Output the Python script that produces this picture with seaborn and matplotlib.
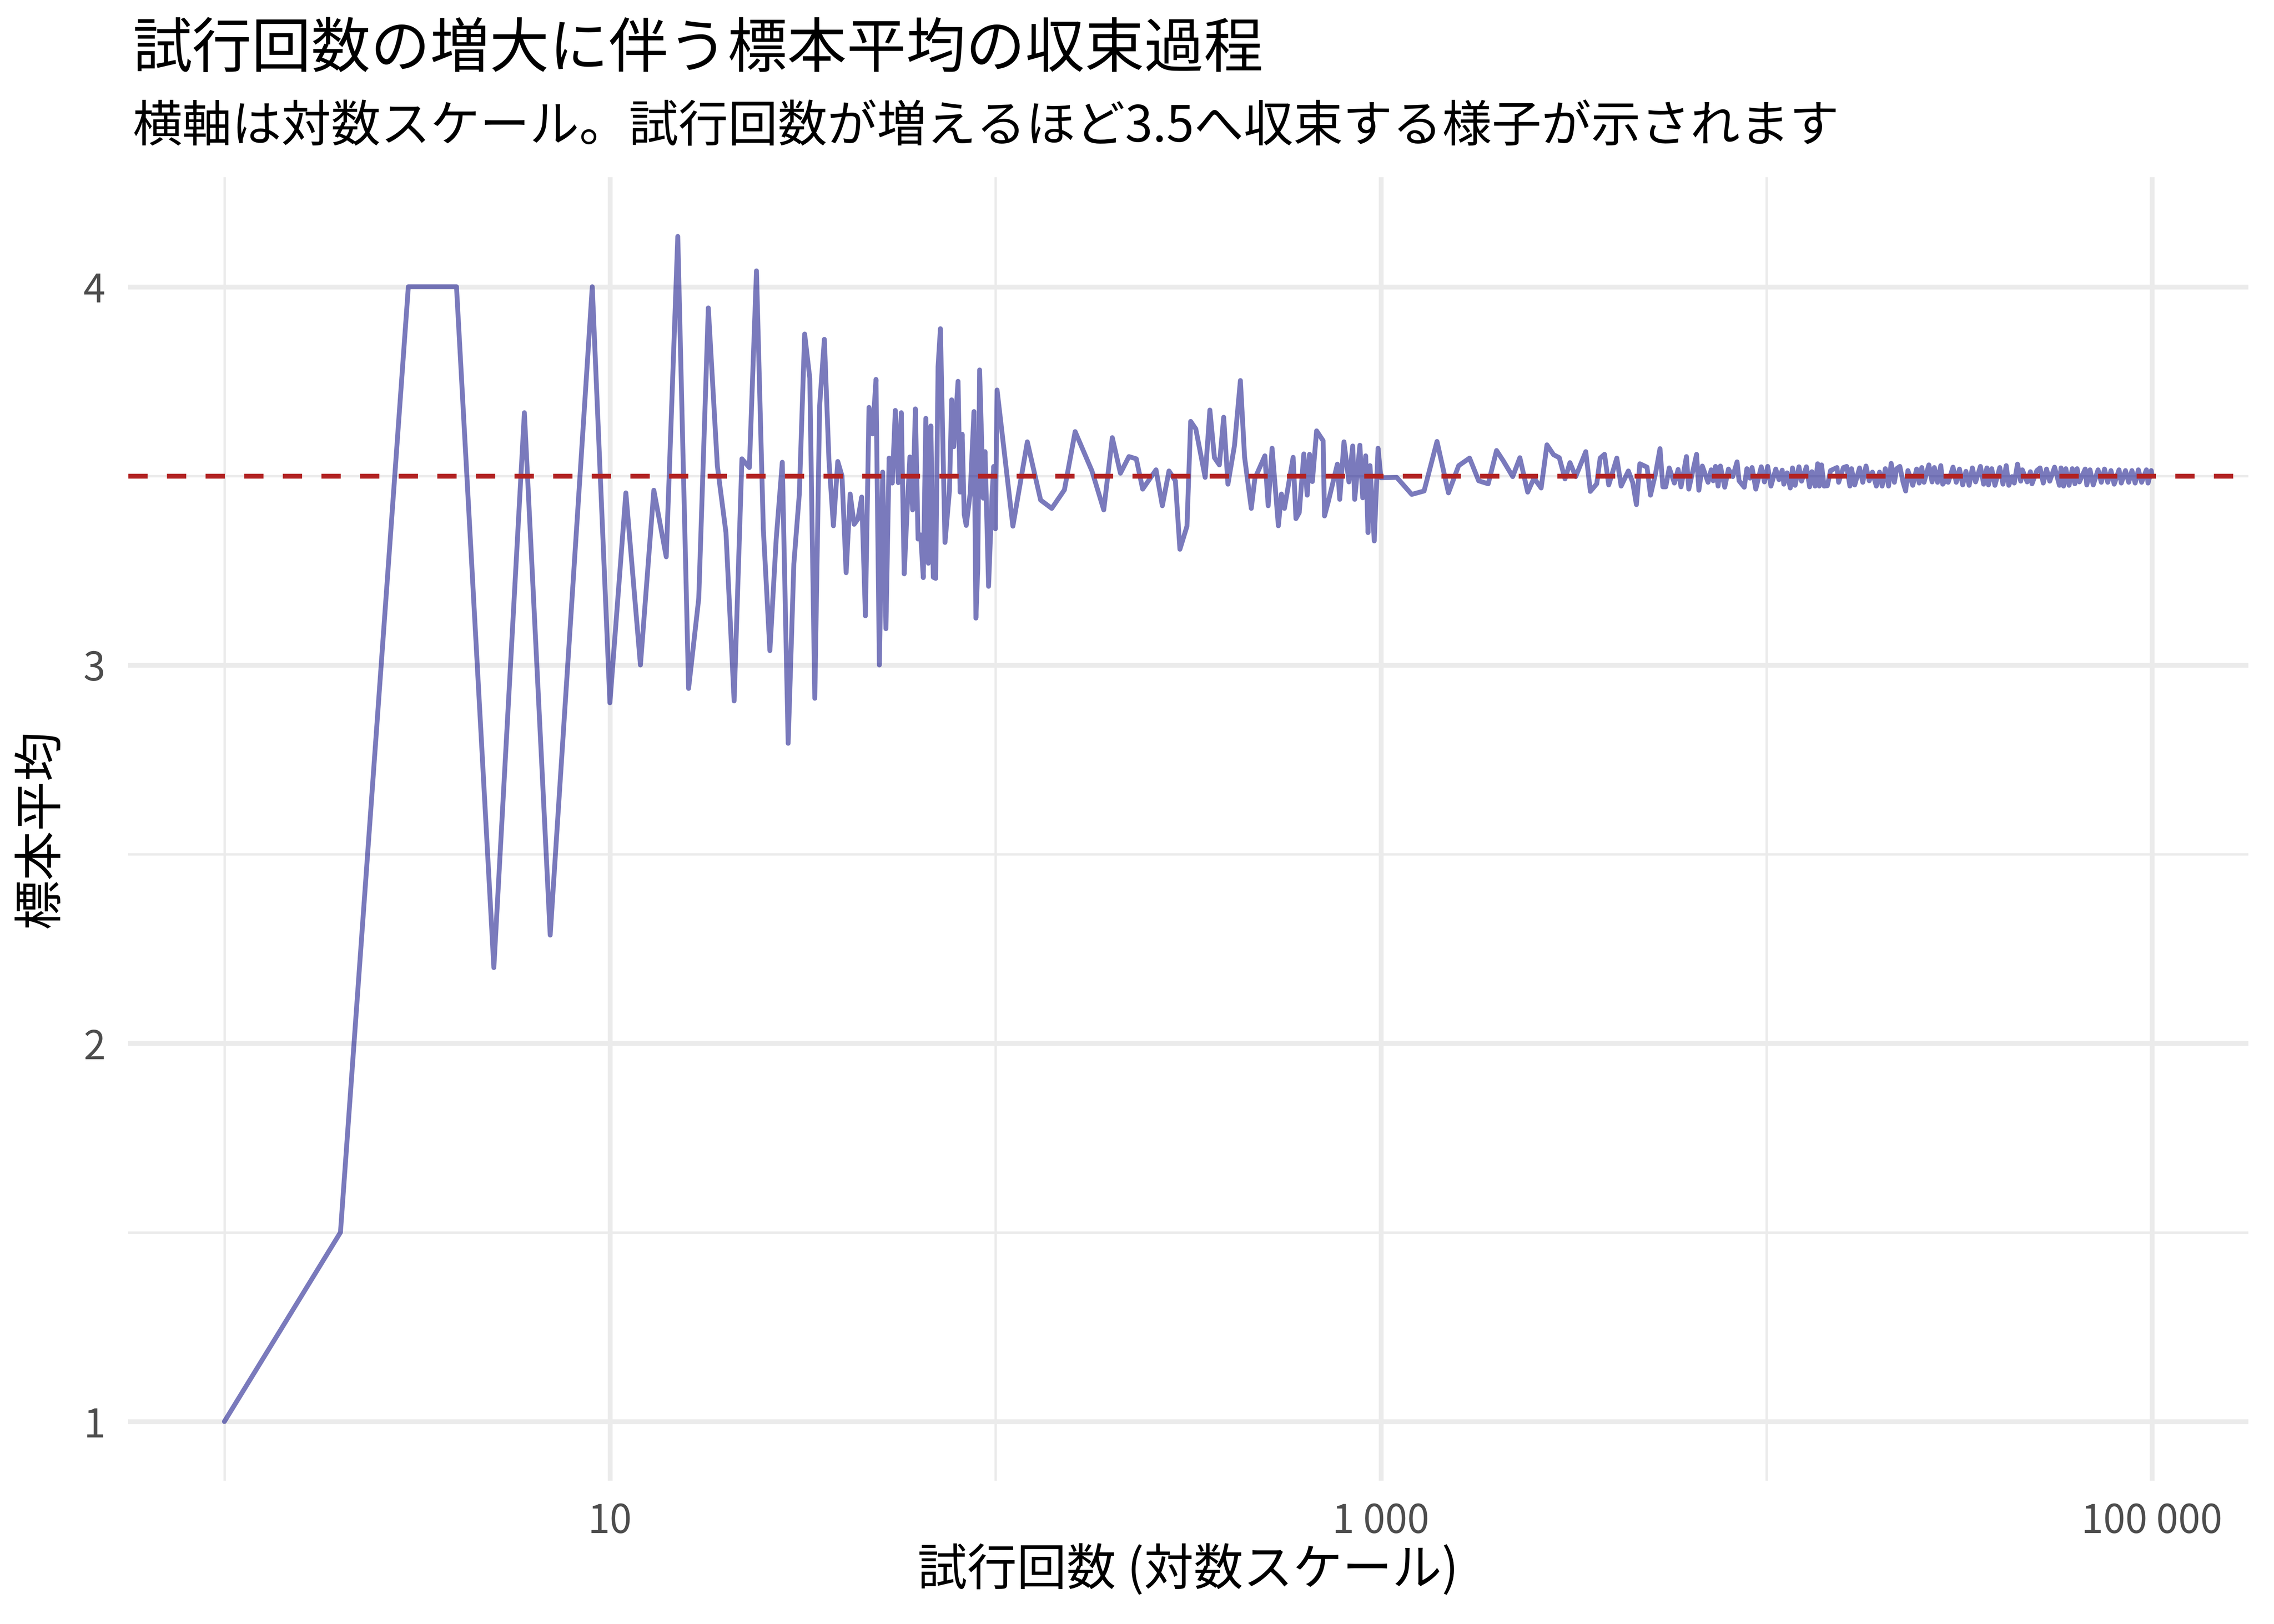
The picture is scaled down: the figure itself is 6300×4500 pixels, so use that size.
import matplotlib
matplotlib.use('Agg')
import matplotlib.pyplot as plt
from matplotlib.ticker import FixedLocator, FixedFormatter, NullFormatter
import numpy as np
import pandas as pd
import seaborn as sns

# sample mean of die rolls at each number of trials
# n = 1 .. 100
trials_a = [1, 2, 3, 4, 5, 6, 7, 9, 10, 11,
            12, 13, 14, 15, 16, 17, 18, 19, 20, 21,
            22, 23, 24, 25, 26, 27, 28, 29, 30, 31,
            32, 33, 34, 35, 36, 37, 38, 39, 40, 41,
            42, 43, 44, 45, 46, 47, 48, 49, 50, 51,
            52, 53, 54, 55, 56, 57, 58, 59, 60, 61,
            62, 63, 64, 65, 66, 67, 68, 69, 70, 71,
            72, 74, 76, 77, 78, 80, 81, 82, 83, 84,
            86, 88, 89, 90, 91, 93, 94, 96, 98, 99,
            100]
means_a = [1.0, 1.5, 4.0, 4.0, 2.2, 3.667, 2.286, 4.0, 2.9, 3.455,
           3.0, 3.462, 3.286, 4.133, 2.938, 3.176, 3.944, 3.526, 3.35, 2.905,
           3.545, 3.522, 4.042, 3.36, 3.038, 3.333, 3.536, 2.793, 3.267, 3.452,
           3.875, 3.758, 2.912, 3.686, 3.861, 3.541, 3.368, 3.538, 3.5, 3.244,
           3.452, 3.372, 3.386, 3.444, 3.13, 3.681, 3.611, 3.755, 3.0, 3.51,
           3.096, 3.547, 3.481, 3.673, 3.482, 3.667, 3.241, 3.407, 3.55, 3.41,
           3.677, 3.333, 3.344, 3.231, 3.652, 3.269, 3.632, 3.232, 3.229, 3.789,
           3.889, 3.324, 3.461, 3.701, 3.577, 3.75, 3.457, 3.61, 3.398, 3.369,
           3.453, 3.67, 3.124, 3.256, 3.78, 3.441, 3.564, 3.208, 3.45, 3.525,
           3.36]

# n = 100 .. 1000
trials_b = [101, 111, 121, 131, 140, 151, 161, 178, 191, 201,
            211, 222, 232, 241, 261, 271, 282, 293, 301, 314,
            321, 331, 350, 360, 370, 381, 391, 401, 417, 432,
            443, 461, 471, 500, 510, 522, 542, 552, 562, 592,
            602, 614, 631, 644, 653, 664, 681, 708, 714, 730,
            771, 782, 802, 826, 845, 855, 882, 897, 913, 926,
            937, 961, 983]
means_b = [3.727, 3.367, 3.590, 3.436, 3.414, 3.463, 3.617, 3.513, 3.410, 3.601,
           3.507, 3.551, 3.545, 3.465, 3.516, 3.421, 3.513, 3.487, 3.306, 3.367,
           3.644, 3.624, 3.496, 3.674, 3.548, 3.529, 3.655, 3.478, 3.580, 3.752,
           3.549, 3.414, 3.493, 3.553, 3.421, 3.573, 3.368, 3.452, 3.414, 3.549,
           3.387, 3.403, 3.558, 3.449, 3.557, 3.485, 3.619, 3.593, 3.394, 3.431,
           3.531, 3.438, 3.590, 3.484, 3.579, 3.438, 3.581, 3.442, 3.553, 3.350,
           3.527, 3.328, 3.573]

# n = 1000 .. 10000
trials_c = [1000, 1099, 1202, 1294, 1398, 1497, 1591, 1698, 1793, 1898,
            1995, 2076, 2197, 2293, 2403, 2495, 2604, 2696, 2804, 2902,
            3003, 3093, 3201, 3399, 3494, 3629, 3705, 3802, 3899, 4092,
            4199, 4384, 4498, 4600, 4695, 4901, 5004, 5161, 5296, 5387,
            5481, 5596, 5771, 5902, 6004, 6202, 6289, 6589, 6679, 6819,
            7056, 7191, 7277, 7378, 7493, 7597, 7795, 7971, 8178, 8392,
            8493, 8759, 8898, 9068, 9178, 9385, 9696, 9881]
means_c = [3.495, 3.496, 3.451, 3.460, 3.591, 3.455, 3.527, 3.547, 3.487, 3.479,
           3.567, 3.540, 3.498, 3.548, 3.457, 3.494, 3.468, 3.582, 3.556, 3.548,
           3.492, 3.535, 3.498, 3.564, 3.459, 3.479, 3.547, 3.557, 3.476, 3.547,
           3.473, 3.513, 3.483, 3.424, 3.532, 3.523, 3.449, 3.508, 3.572, 3.471,
           3.471, 3.521, 3.481, 3.517, 3.471, 3.551, 3.465, 3.557, 3.462, 3.526,
           3.483, 3.516, 3.487, 3.525, 3.473, 3.526, 3.470, 3.518, 3.498, 3.537,
           3.487, 3.470, 3.519, 3.494, 3.522, 3.465, 3.524, 3.484]

# n = 10000 .. 100000
trials_d = [10077, 10273, 10574, 10779, 10989, 11095, 11311, 11531, 11687, 11869,
            12146, 12335, 12696, 12943, 13118, 13373, 13581, 13712, 13898, 14114,
            14388, 14668, 15244, 15391, 15842, 16150, 16464, 16623, 16946, 17443,
            17782, 18127, 18480, 18839, 19279, 19654, 19959, 20347, 20743, 21065,
            21474, 21766, 22189, 22620, 22971, 23283, 23965, 24525, 24906, 25292,
            25635, 26386, 26899, 27264, 27794, 28334, 28663, 29164, 29617, 30485,
            31077, 31681, 32298, 32925, 33565, 34218, 34883, 35905, 36603, 37315,
            37675, 38407, 39154, 40301, 41085, 41884, 42534, 43361, 43948, 44802,
            45673, 46115, 47466, 48389, 48856, 50288, 51265, 52262, 53278, 54313,
            55905, 57543, 58099, 59001, 59802, 60964, 62149, 63114, 63970, 64838,
            67124, 67774, 69091, 70434, 72498, 73907, 75343, 76808, 78301, 79823,
            82162, 83277, 85388, 87048, 88741, 90465, 92224, 94016, 96771, 97707,
            99606, 100000]
means_d = [3.525, 3.473, 3.518, 3.490, 3.515, 3.478, 3.508, 3.468, 3.521, 3.475,
           3.524, 3.486, 3.524, 3.471, 3.511, 3.473, 3.532, 3.473, 3.529, 3.473,
           3.474, 3.514, 3.522, 3.483, 3.522, 3.525, 3.473, 3.519, 3.476, 3.521,
           3.483, 3.526, 3.487, 3.510, 3.473, 3.510, 3.473, 3.519, 3.473, 3.533,
           3.483, 3.519, 3.525, 3.483, 3.460, 3.514, 3.475, 3.518, 3.481, 3.522,
           3.483, 3.529, 3.484, 3.522, 3.483, 3.527, 3.478, 3.489, 3.483, 3.523,
           3.483, 3.518, 3.476, 3.512, 3.475, 3.521, 3.484, 3.525, 3.478, 3.521,
           3.476, 3.519, 3.475, 3.522, 3.478, 3.527, 3.475, 3.498, 3.481, 3.531,
           3.486, 3.516, 3.484, 3.511, 3.479, 3.514, 3.521, 3.481, 3.518, 3.486,
           3.523, 3.475, 3.521, 3.473, 3.519, 3.475, 3.519, 3.479, 3.519, 3.484,
           3.518, 3.476, 3.516, 3.476, 3.516, 3.483, 3.518, 3.483, 3.514, 3.478,
           3.516, 3.481, 3.514, 3.483, 3.514, 3.481, 3.516, 3.483, 3.516, 3.481,
           3.514, 3.499]

true_mean = 3.5

title = '試行回数の増大に伴う標本平均の収束過程'
subtitle = '横軸は対数スケール。試行回数が増えるほど3.5へ収束する様子が示されます'
x_label = '試行回数 (対数スケール)'
y_label = '標本平均'

x_major = [10, 1000, 100000]
x_major_labels = ['10', '1 000', '100 000']
x_minor = [1, 100, 10000]
y_major = [1, 2, 3, 4]
y_major_labels = ['1', '2', '3', '4']
y_minor = [1.5, 2.5, 3.5]

df = pd.DataFrame({
    'trials': trials_a + trials_b + trials_c + trials_d,
    'mean': means_a + means_b + means_c + means_d,
})

sns.set_theme(style='white')
plt.rcParams['font.family'] = ['Noto Sans CJK JP', 'DejaVu Sans']

fig, ax = plt.subplots(figsize=(7, 5), dpi=900)
fig.subplots_adjust(left=0.0563, right=0.9887, top=0.8909, bottom=0.0882)

sns.lineplot(data=df, x='trials', y='mean', ax=ax, color='navy', alpha=0.52,
             linewidth=1.07, estimator=None, sort=True, zorder=2)
ax.axhline(true_mean, color='#B22222', linewidth=1.07, linestyle=(0, (4, 4)), zorder=3)

# log x axis with ggplot-style 5% expansion
ax.set_xscale('log')
lx = np.log10(df['trials'])
pad = 0.05 * (lx.max() - lx.min())
ax.set_xlim(10 ** (lx.min() - pad), 10 ** (lx.max() + pad))
ypad = 0.05 * (df['mean'].max() - df['mean'].min())
ax.set_ylim(df['mean'].min() - ypad, df['mean'].max() + ypad)

ax.xaxis.set_major_locator(FixedLocator(x_major))
ax.xaxis.set_major_formatter(FixedFormatter(x_major_labels))
ax.xaxis.set_minor_locator(FixedLocator(x_minor))
ax.xaxis.set_minor_formatter(NullFormatter())
ax.yaxis.set_major_locator(FixedLocator(y_major))
ax.yaxis.set_major_formatter(FixedFormatter(y_major_labels))
ax.yaxis.set_minor_locator(FixedLocator(y_minor))

ax.set_axisbelow(True)
ax.grid(which='major', color='#EBEBEB', linewidth=1.07)
ax.grid(which='minor', color='#EBEBEB', linewidth=0.53)
for s in ax.spines.values():
    s.set_visible(False)
ax.tick_params(which='both', length=0, labelsize=8.8, labelcolor='#4D4D4D')
ax.tick_params(axis='x', pad=4.6)
ax.tick_params(axis='y', pad=5.0)

ax.set_xlabel(x_label, fontsize=11, color='black')
ax.xaxis.label.set_va('baseline')
ax.xaxis.set_label_coords(0.5, -0.080)
ax.set_ylabel(y_label, fontsize=11, color='black')
ax.yaxis.label.set_va('center')
ax.yaxis.set_label_coords(-0.0409, 0.5)

fig.text(0.0583, 0.9587, title, fontsize=13.2, color='black', va='baseline', ha='left')
fig.text(0.0583, 0.9129, subtitle, fontsize=11, color='black', va='baseline', ha='left')

fig.savefig('out.png', dpi=900, facecolor='white')
